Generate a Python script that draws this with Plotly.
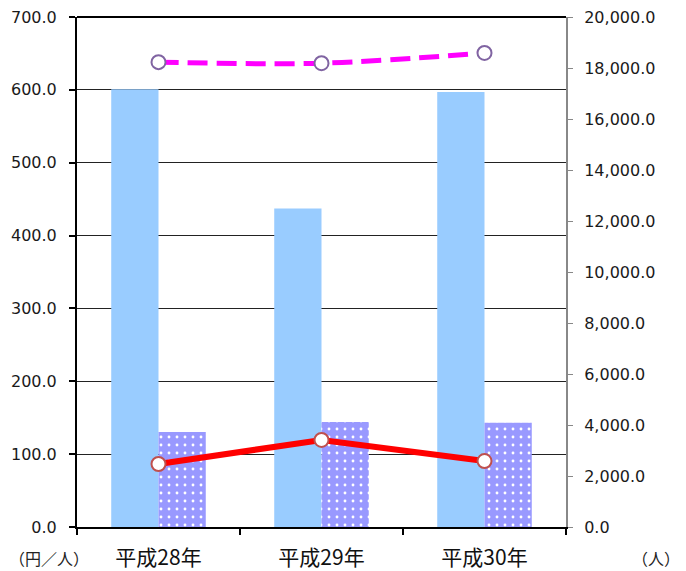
import plotly.graph_objects as go

categories = ["平成28年", "平成29年", "平成30年"]
bar_blue = [601, 437, 597]          # 円/人 (left axis)
bar_dotted = [130.5, 144, 143]      # 円/人 (left axis)
line_red = [86.5, 119.5, 90.5]      # 円/人 (left axis)
line_magenta = [18230, 18190, 18590]  # 人 (right axis)

font_main = "DejaVu Sans, Verdana, sans-serif"
font_cjk = "Noto Sans CJK JP, sans-serif"

# page offset (browser body margin)
OFF = 8
W, H = 686, 571
L, R, T, B = 77 - OFF, W - (566 - OFF), 17 - OFF, H - (527 - OFF)

fig = go.Figure()
fig.add_trace(go.Bar(x=categories, y=bar_blue, marker=dict(color="#99CCFF", line=dict(width=0)),
                     yaxis="y", offsetgroup="a", showlegend=False))
fig.add_trace(go.Bar(x=categories, y=bar_dotted,
                     marker=dict(color="#9999FF", line=dict(width=0),
                                 pattern=dict(shape=".", fgcolor="#FFFFFF", bgcolor="#9999FF",
                                              size=8, solidity=0.1, fillmode="replace")),
                     yaxis="y", offsetgroup="b", showlegend=False))
fig.add_trace(go.Scatter(x=categories, y=line_red, mode="lines+markers", yaxis="y",
                         line=dict(color="#FF0000", width=6),
                         marker=dict(size=14, color="#FFFFFF", line=dict(color="#C0504D", width=2)),
                         showlegend=False))
fig.add_trace(go.Scatter(x=categories, y=line_magenta, mode="lines+markers", yaxis="y2",
                         line=dict(color="#FF00FF", width=5, dash="20px,9px", shape="spline"),
                         marker=dict(size=14, color="#FFFFFF", line=dict(color="#8064A2", width=2)),
                         showlegend=False))

fig.update_layout(
    width=W, height=H,
    margin=dict(l=L, r=R, t=T, b=B, autoexpand=False),
    paper_bgcolor="white", plot_bgcolor="white",
    barmode="group", bargap=0.42, bargroupgap=0,
    font=dict(family=font_main, size=16, color="#1a1a1a"),
    xaxis=dict(type="category", tickson="boundaries", ticks="outside", ticklen=6,
               tickcolor="black", tickwidth=2, showline=True, linecolor="black", linewidth=2,
               showgrid=False, tickfont=dict(family=font_cjk, size=21, color="#111111"),
               ticklabelstandoff=11, automargin=False, ticklabeloverflow="allow"),
    yaxis=dict(range=[0, 700], dtick=100, tickformat=".1f", showgrid=True, gridcolor="#222222",
               gridwidth=1, showline=True, linecolor="black", linewidth=2, ticks="outside",
               ticklen=6, tickcolor="black", tickwidth=2, zeroline=False, mirror=False,
               ticklabelstandoff=9, tickfont=dict(size=16), automargin=False,
               ticklabeloverflow="allow"),
    yaxis2=dict(range=[0, 20000], dtick=2000, tickformat=",.1f", overlaying="y", side="right",
                showgrid=False, showline=True, linecolor="#888888", linewidth=2, ticks="outside",
                ticklen=5, tickcolor="#888888", zeroline=False, ticklabelstandoff=8,
                tickfont=dict(size=16), automargin=False, ticklabeloverflow="allow"),
)

plot_w = W - L - R
plot_h = H - T - B

def ann(text, px, py, size):
    fx, fy = px - OFF, py - OFF
    return dict(text=text, x=(fx - L) / plot_w, y=(H - B - fy) / plot_h, xref="paper", yref="paper",
                showarrow=False, xanchor="center", yanchor="middle",
                font=dict(family=font_cjk, size=size, color="#222222"))

fig.update_layout(annotations=[
    ann("（円／人）", 49, 558, 16),
    ann("（人）", 656, 558, 16),
])

# top border line at 700
fig.add_shape(type="line", xref="paper", yref="paper", x0=0, x1=1, y0=1, y1=1,
              line=dict(color="black", width=2))

fig.write_html("out.html")
